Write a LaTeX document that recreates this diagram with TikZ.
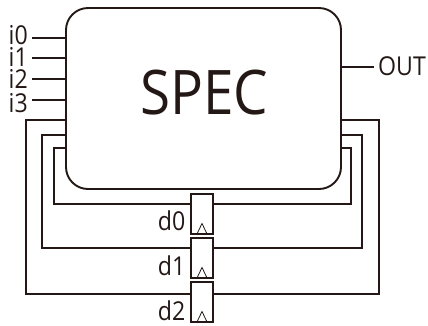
\documentclass[tikz,border=0pt]{standalone}
\usepackage{fontspec}
\setmainfont{Open Sans}
\newfontfamily\narrowsans[FakeStretch=0.89]{Open Sans}
\usetikzlibrary{calc}
\definecolor{ink}{HTML}{231815}
\tikzset{
  x=1pt,y=-1pt,
  wire/.style={draw=ink,line width=1.7pt,line cap=butt,line join=miter},
  lab/.style={inner sep=0pt,font=\narrowsans\fontsize{26}{26}\selectfont,text=ink},
  specbox/.style={draw=ink,line width=1.9pt,rounded corners=22pt,minimum width=275pt,minimum height=181pt,inner sep=0pt},
  ffbox/.style={draw=ink,line width=1.9pt,minimum width=22.5pt,minimum height=40pt,inner sep=0pt},
  clk/.style={draw=ink,line width=0.8pt,line join=miter}
}
\begin{document}
\begin{tikzpicture}
\useasboundingbox (0,0) rectangle (428,325);
\node[specbox] (spec) at (203.5,98.5) {};
\node[inner sep=0pt,font=\narrowsans\fontsize{61.5}{61.5}\selectfont,text=ink,anchor=base] (spectext) at (204,114) {SPEC};
\node[ffbox] (f0) at (202,214) {};
\node[ffbox] (f1) at (202,258) {};
\node[ffbox] (f2) at (202,302) {};
% inputs
\foreach \n/\y/\b in {0/38/44.5,1/58/66,2/79/88,3/100/112}{
  \node[lab,anchor=base east] (i\n) at (28,\b) {i\n};
  \coordinate (s\n) at (32,\y);
  \draw[wire] (s\n) -- (spec.west |- s\n);
}
% output
\node[lab,anchor=base west] (out) at (378,75) {OUT};
\coordinate (o) at (374,67);
\draw[wire] (spec.east |- o) -- (o);
% feedback loops
\draw[wire] (spec.west |- 0,148) -| (54,204) -- (f0.west |- 0,204);
\draw[wire] (f0.east |- 0,204) -| (351,148) -- (spec.east |- 0,148);
\draw[wire] (spec.west |- 0,135) -| (42,248) -- (f1.west |- 0,248);
\draw[wire] (f1.east |- 0,248) -| (362,135) -- (spec.east |- 0,135);
\draw[wire] (spec.west |- 0,120) -| (26,294) -- (f2.west |- 0,294);
\draw[wire] (f2.east |- 0,294) -| (379,120) -- (spec.east |- 0,120);
% flop labels and clocks
\foreach \n/\b in {0/230,1/275,2/320}{
  \node[lab,anchor=base east] (d\n) at (185.5,\b) {d\n};
  \draw[clk] ($(f\n.south)+(-5,-1)$) -- ($(f\n.south)+(0,-11.5)$) -- ($(f\n.south)+(5,-1)$);
}
\end{tikzpicture}
\end{document}
